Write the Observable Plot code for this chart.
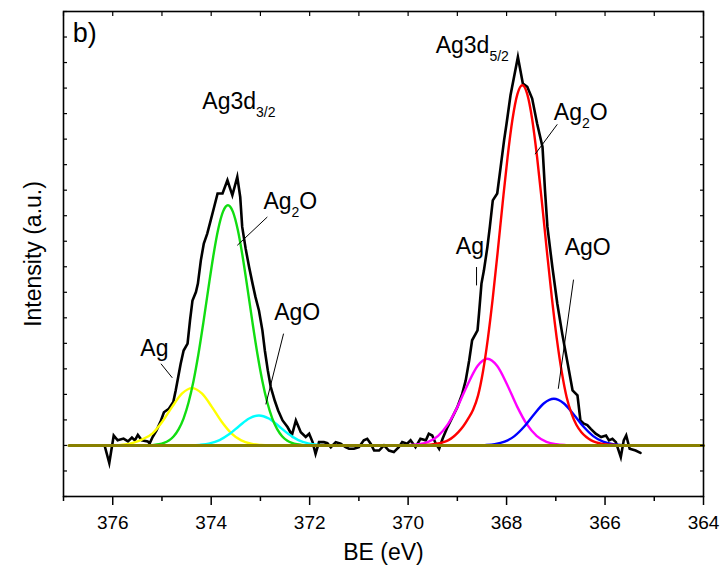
<!DOCTYPE html>
<html><head><meta charset="utf-8">
<script src="https://cdn.jsdelivr.net/npm/d3@7"></script>
<script src="https://cdn.jsdelivr.net/npm/@observablehq/plot@0.6"></script>
<style>
html,body{margin:0;padding:0;background:#fff;}
#chart svg{display:block;}
</style>
</head><body><div id="chart"></div>
<script>
// ---------- data ----------
// experimental spectrum: binding energy (eV) and intensity (a.u.)
const expBE = [376.16,376.07,375.98,375.90,375.78,375.69,375.61,375.55,375.49,375.41,375.29,375.25,375.19,375.11,375.02,374.96,374.86,374.77,374.72,374.67,374.62,374.56,374.48,374.43,374.38,374.31,374.27,374.21,374.15,374.08,374.01,373.94,373.87,373.77,373.67,373.57,373.47,373.41,373.37,373.30,373.23,373.16,373.10,373.03,372.96,372.91,372.85,372.79,372.71,372.64,372.55,372.45,372.36,372.28,372.18,372.08,372.01,371.94,371.88,371.81,371.71,371.64,371.57,371.47,371.37,371.27,371.20,371.10,371.00,370.90,370.83,370.76,370.69,370.59,370.49,370.39,370.29,370.19,370.12,370.02,369.95,369.85,369.75,369.64,369.58,369.51,369.44,369.37,369.30,369.20,369.10,369.00,368.90,368.83,368.76,368.70,368.59,368.56,368.51,368.46,368.39,368.34,368.28,368.19,368.12,368.05,368.00,367.92,367.77,367.67,367.58,367.48,367.38,367.27,367.22,367.17,367.07,366.97,366.87,366.77,366.66,366.56,366.50,366.43,366.36,366.29,366.19,366.08,365.98,365.92,365.85,365.78,365.68,365.62,365.57,365.50,365.38,365.28];
const expI = [-40,-690,390,200,270,160,310,200,410,200,160,80,330,590,980,1300,1440,1700,2160,2680,3200,3720,3990,4900,5680,6010,6340,7250,7910,8300,8820,9340,9870,9870,10390,9800,10520,9730,8560,7710,6990,6340,5810,5290,4510,3720,2940,2290,1760,1370,980,720,410,980,520,330,460,130,-330,130,130,90,-70,130,70,-70,-130,-130,-70,200,260,70,-200,-200,0,-200,-260,-70,130,70,200,-70,260,200,460,390,80,-130,260,720,1110,1500,2030,2550,3330,4120,4510,5160,6340,6860,7770,8560,9600,9870,10910,11960,12610,13720,15220,14180,14050,13590,12610,11690,10000,8560,6990,5560,4380,3330,2160,1960,980,850,800,650,460,330,390,200,260,130,-460,200,390,-130,-200,-290];

// fitted components [BE, intensity]
const ag32 = [[375.99,0],[375.79,30],[375.59,100],[375.39,250],[375.19,476],[374.99,937],[374.79,1523],[374.59,2037],[374.39,2246],[374.19,2037],[373.99,1523],[373.79,937],[373.59,476],[373.39,198],[373.19,67],[372.99,19],[372.79,0]];
const ag2o32 = [[375.26,9],[375.16,22],[375.06,48],[374.96,100],[374.86,195],[374.76,362],[374.66,638],[374.56,1063],[374.46,1681],[374.36,2517],[374.26,3571],[374.16,4800],[374.06,6115],[373.96,7385],[373.86,8448],[373.76,9159],[373.66,9408],[373.56,9159],[373.46,8448],[373.36,7385],[373.26,6115],[373.16,4800],[373.06,3571],[372.96,2517],[372.86,1681],[372.76,1063],[372.66,638],[372.56,362],[372.46,195],[372.36,100],[372.26,48],[372.16,22],[372.06,9]];
const ago32 = [[374.43,0],[374.23,24],[374.03,80],[373.83,210],[373.63,446],[373.43,764],[373.23,1056],[373.03,1176],[372.83,1056],[372.63,764],[372.43,446],[372.23,210],[372.03,80],[371.83,24],[371.63,0]];
const ag52 = [[370.19,0],[369.99,12],[369.79,46],[369.59,143],[369.39,377],[369.19,833],[368.99,1541],[368.79,2391],[368.59,3113],[368.39,3399],[368.19,3113],[367.99,2391],[367.79,1541],[367.59,833],[367.39,377],[367.19,143],[366.99,46],[366.79,12],[366.59,0]];
const ag2o52 = [[369.88,0],[369.68,15],[369.48,50],[369.28,130],[369.18,210],[369.08,340],[368.98,520],[368.88,750],[368.78,1050],[368.68,1400],[368.58,1950],[368.48,2886],[368.38,4186],[368.28,5779],[368.18,7592],[368.08,9490],[367.98,11290],[367.88,12780],[367.78,13766],[367.68,14112],[367.58,13766],[367.48,12780],[367.38,11290],[367.28,9490],[367.18,7592],[367.08,5779],[366.98,4186],[366.88,2886],[366.78,1892],[366.68,1250],[366.58,800],[366.48,520],[366.38,330],[366.28,200],[366.18,120],[366.08,70],[365.88,25],[365.68,0]];
const ago52 = [[368.64,0],[368.44,13],[368.24,49],[368.04,148],[367.84,367],[367.64,741],[367.44,1224],[367.24,1655],[367.04,1830],[366.84,1655],[366.64,1224],[366.44,741],[366.24,367],[366.04,148],[365.84,49],[365.64,13],[365.44,3],[365.24,0]];
// background
const bgBE = [376.89, 364.0];
const bgI = [0, 0];

// annotations
const annText = ["Ag3d_{3/2}", "Ag3d_{5/2}", "Ag_{2}O", "Ag_{2}O", "AgO", "AgO", "Ag", "Ag"];
const annBE = [374.18, 369.44, 372.94, 367.04, 372.72, 366.82, 375.44, 369.03];
const annI = [13200, 15355, 9280, 12740, 4900, 7450, 3490, 7515];
const panelText = ["b)"];
const panelBE = [376.81];
const panelI = [15790];
// leader lines
const leadBE1 = [372.86, 366.97, 372.53, 366.64, 375.02, 368.61];
const leadI1 = [8950, 12580, 4380, 6495, 3200, 6990];
const leadBE2 = [373.47, 367.42, 372.89, 366.95, 374.79, 368.61];
const leadI2 = [7840, 11410, 1610, 2220, 2650, 6270];

// ticks
const xMajor = [376, 374, 372, 370, 368, 366, 364];
const xMinor = [377, 375, 373, 371, 369, 367, 365];
const xAll = [377,376,375,374,373,372,371,370,369,368,367,366,365,364];
const yTicks = d3.range(-2000, 17001, 1000);

// ---------- build ----------
const F = "'Liberation Sans', Arial, Helvetica, sans-serif";
const exp = expBE.map((be, i) => ({be, v: expI[i]}));
const pts = arr => arr.map(([be, v]) => ({be, v}));
const bg = bgBE.map((be, i) => ({be, v: bgI[i]}));
const ann = annText.map((t, i) => ({t, be: annBE[i], v: annI[i]}));
const panel = panelText.map((t, i) => ({t, be: panelBE[i], v: panelI[i]}));
const leads = leadBE1.map((b, i) => ({x1: b, y1: leadI1[i], x2: leadBE2[i], y2: leadI2[i]}));

const comps = [
  {data: ag32, color: "#ffff00"},
  {data: ago32, color: "#00ffff"},
  {data: ag2o32, color: "#11dd11"},
  {data: ag52, color: "#ff00ff"},
  {data: ago52, color: "#0000ff"},
  {data: ag2o52, color: "#ff0000"}
];

const blank = () => "";
const svg = Plot.plot({
  width: 725, height: 568,
  marginLeft: 63, marginRight: 22, marginTop: 11, marginBottom: 72,
  style: {fontFamily: F, background: "#fff", color: "#000"},
  x: {domain: [377, 364], label: null},
  y: {domain: [-2000, 17000], label: null},
  marks: [
    Plot.line(exp, {x: "be", y: "v", stroke: "#000", strokeWidth: 2.6, strokeLinejoin: "miter", strokeMiterlimit: 6}),
    ...comps.map(c => Plot.line(pts(c.data), {x: "be", y: "v", stroke: c.color, strokeWidth: 2.4, curve: "monotone-x"})),
    Plot.line(bg, {x: "be", y: "v", stroke: "#888000", strokeWidth: 3}),
    Plot.link(leads, {x1: "x1", y1: "y1", x2: "x2", y2: "y2", stroke: "#000", strokeWidth: 1}),
    Plot.text(ann, {x: "be", y: "v", text: "t", textAnchor: "start", lineAnchor: "bottom", fontSize: 23, fill: "#000"}),
    Plot.text(panel, {x: "be", y: "v", text: "t", textAnchor: "start", lineAnchor: "bottom", fontSize: 27, fill: "#000"}),
    Plot.text(["BE (eV)"], {text: d => d, frameAnchor: "bottom", dy: 63, lineAnchor: "bottom", fontSize: 23, fill: "#000"}),
    Plot.text(["Intensity (a.u.)"], {text: d => d, frameAnchor: "left", textAnchor: "middle", dx: -30, rotate: -90, fontSize: 23, fill: "#000"}),
    Plot.axisX({ticks: xMajor, tickSize: 9, tickPadding: 10, fontSize: 19, label: null, strokeWidth: 1.5, tickFormat: d => String(d)}),
    Plot.axisX({ticks: xMinor, tickSize: 5, label: null, strokeWidth: 1.5, tickFormat: blank}),
    Plot.axisX({anchor: "top", ticks: xAll, tickSize: 4, dy: 4, label: null, strokeWidth: 1.2, tickFormat: blank}),
    Plot.axisY({anchor: "left", ticks: yTicks, tickSize: 4, dx: 4, label: null, strokeWidth: 1.2, tickFormat: blank}),
    Plot.axisY({anchor: "right", ticks: yTicks, tickSize: 4, dx: -4, label: null, strokeWidth: 1.2, tickFormat: blank}),
    Plot.frame({stroke: "#000", strokeWidth: 1.6})
  ]
});

// subscripts
d3.select(svg).selectAll("text").each(function () {
  const t = this.textContent;
  if (!t.includes("_{")) return;
  const sel = d3.select(this);
  sel.text(null);
  const parts = t.split(/(_\{[^}]*\})/).filter(s => s.length);
  let lowered = false;
  parts.forEach(p => {
    if (p.startsWith("_{")) {
      sel.append("tspan").attr("font-size", 14).attr("dy", lowered ? 0 : 8).text(p.slice(2, -1));
      lowered = true;
    } else {
      sel.append("tspan").attr("dy", lowered ? -8 : 0).text(p);
      lowered = false;
    }
  });
});

document.getElementById("chart").appendChild(svg);
</script>
</body></html>
